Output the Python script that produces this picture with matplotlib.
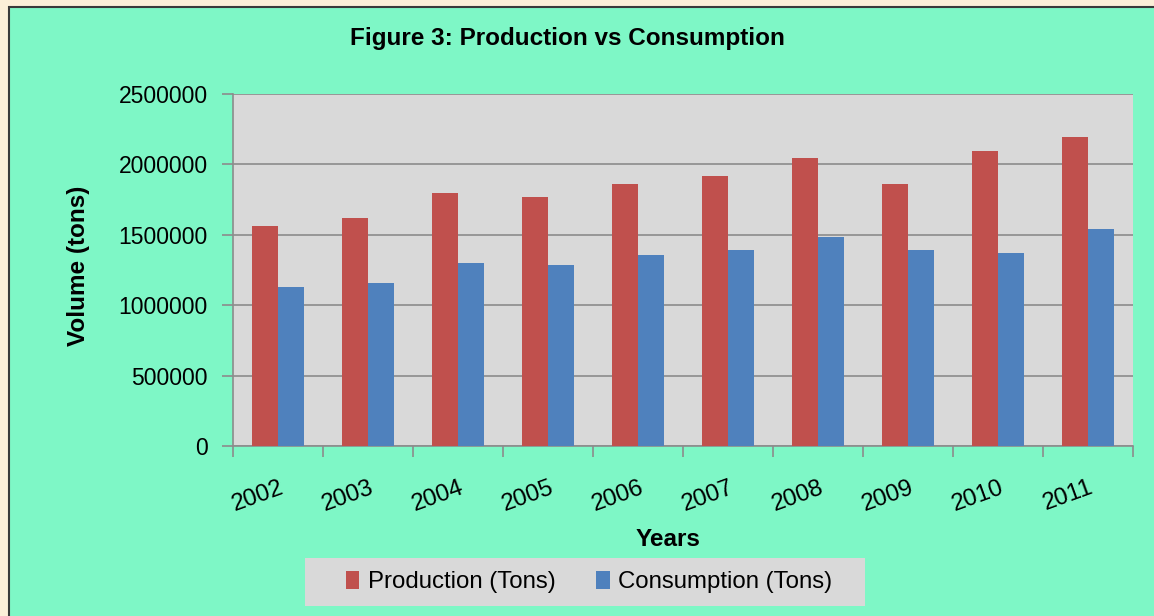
import matplotlib
matplotlib.use("Agg")
import matplotlib.pyplot as plt
from matplotlib.patches import Rectangle
import matplotlib.transforms as mtransforms
from matplotlib import font_manager
import numpy as np

years = ["2002", "2003", "2004", "2005", "2006", "2007", "2008", "2009", "2010", "2011"]
production = [1560000, 1617000, 1800000, 1769000, 1859000, 1920000, 2043000, 1859000, 2095000, 2195000]
consumption = [1132000, 1158000, 1300000, 1283000, 1359000, 1392000, 1482000, 1392000, 1373000, 1544000]
yticks = [0, 500000, 1000000, 1500000, 2000000, 2500000]

names = {f.name for f in font_manager.fontManager.ttflist}
if "Liberation Sans Narrow" in names:
    FONT = ["Liberation Sans Narrow", "DejaVu Sans"]
    FS = 20
else:
    FONT = ["Liberation Sans", "DejaVu Sans"]
    FS = 16.5
plt.rcParams["font.family"] = FONT

W, H = 1154, 616
fig = plt.figure(figsize=(W / 100, H / 100), dpi=100)
fig.patch.set_facecolor("#fcefd8")
bg = Rectangle((9 / W, -0.01), 1.01 - 9 / W, 1.01 - 7 / H, transform=fig.transFigure,
               facecolor="#7ef7c6", edgecolor="#3a3a3a", linewidth=1.5, zorder=-10)
fig.patches.append(bg)
legbox = Rectangle((305 / W, 1 - 606 / H), (865 - 305) / W, 48 / H, transform=fig.transFigure,
                   facecolor="#d9d9d9", edgecolor="none", zorder=-5)
fig.patches.append(legbox)

ax = fig.add_axes([233 / W, 1 - 446 / H, (1133 - 233) / W, (446 - 94) / H])
ax.set_facecolor("#d9d9d9")

x = np.arange(len(years))
bw = 0.286
ax.bar(x - bw / 2, production, bw, color="#c0504d", label="Production (Tons)", zorder=3)
ax.bar(x + bw / 2, consumption, bw, color="#4f81bd", label="Consumption (Tons)", zorder=3)

ax.set_xlim(-0.5, len(years) - 0.5)
ax.set_ylim(0, 2500000)
ax.set_yticks(yticks)
ax.set_yticklabels([str(v) for v in yticks], fontsize=FS)
ax.yaxis.grid(True, color="#8c8c8c", linewidth=1.2, zorder=1)
ax.set_axisbelow(True)

ax.set_xticks(np.arange(len(years) + 1) - 0.5)
ax.set_xticklabels([])
ax.set_xticks(x, minor=True)
ax.set_xticklabels(years, minor=True, fontsize=FS * 1.05, rotation=20, ha="right", va="top",
                   rotation_mode="anchor")
ax.tick_params(axis="x", which="minor", length=0, pad=22)
ax.tick_params(axis="x", which="major", length=8, color="#8c8c8c", width=1.2, direction="out")
ax.tick_params(axis="y", length=8, color="#8c8c8c", width=1.2, direction="out", pad=10)
offset = mtransforms.ScaledTranslation(1 / 100, 0, fig.dpi_scale_trans)
for lbl in ax.get_xticklabels(minor=True):
    lbl.set_transform(lbl.get_transform() + offset)

for s in ["top", "right"]:
    ax.spines[s].set_visible(False)
for s in ["left", "bottom"]:
    ax.spines[s].set_color("#8c8c8c")
    ax.spines[s].set_linewidth(1.2)

fig.text(567 / W, 1 - 38 / H, "Figure 3: Production vs Consumption", fontsize=FS * 1.06,
         fontweight="bold", ha="center", va="center")
fig.text(78 / W, 1 - 266 / H, "Volume (tons)", fontsize=FS * 1.06, fontweight="bold",
         rotation=90, ha="center", va="center")
fig.text(668 / W, 1 - 540 / H, "Years", fontsize=FS * 1.06, fontweight="bold", ha="center", va="center")

leg = fig.legend(loc="center", bbox_to_anchor=(589 / W, 1 - 582 / H), ncol=2, fontsize=FS * 1.05,
                 frameon=False, handlelength=0.55, handleheight=0.75,
                 handletextpad=0.35, columnspacing=1.7, borderpad=0.3, borderaxespad=0)

fig.savefig("out.png", dpi=100, facecolor=fig.get_facecolor())
